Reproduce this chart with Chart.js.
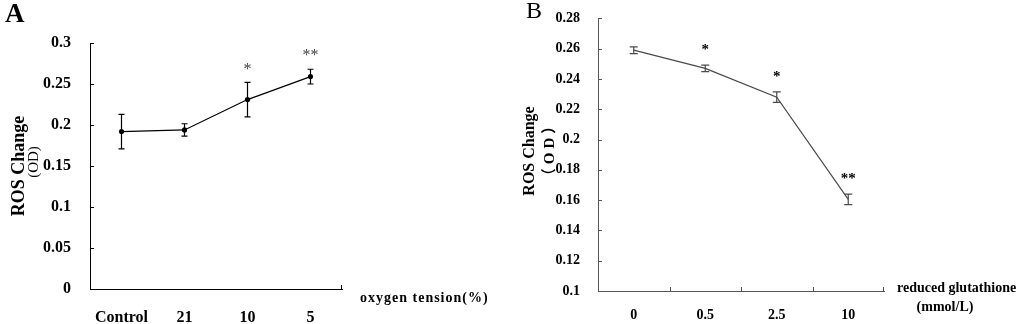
<!DOCTYPE html>
<html>
<head>
<meta charset="utf-8">
<script src="https://cdn.jsdelivr.net/npm/chart.js@4/dist/chart.umd.min.js"></script>
<style>
  html, body { margin: 0; padding: 0; background: #fff; }
  #wrap { position: relative; width: 1024px; height: 324px; }
  .panel { position: absolute; top: 0; width: 512px; height: 324px; }
</style>
</head>
<body>
<div id="wrap">
  <div class="panel" style="left:0"><canvas id="chartA"></canvas></div>
  <div class="panel" style="left:512px"><canvas id="chartB"></canvas></div>
</div>
<script>
// panel A: oxygen tension
var catsA = ['Control', '21', '10', '5'];
var rosA = [0.192, 0.194, 0.231, 0.259];
var errA = [0.021, 0.0075, 0.021, 0.009];
var starsA = ['', '', '*', '**'];
var ticksA = { min: 0, max: 0.3, step: 0.05 };

// panel B: reduced glutathione
var catsB = ['0', '0.5', '2.5', '10'];
var rosB = [0.259, 0.247, 0.228, 0.1605];
var errB = [0.0022, 0.0022, 0.0035, 0.0035];
var starsB = ['', '*', '*', '**'];
var ticksB = { min: 0.1, max: 0.28, step: 0.02 };

var SERIF = "'Liberation Serif', 'Times New Roman', 'Noto Sans CJK SC', serif";

function fmt(v) { return String(+v.toFixed(2)); }

function panelPlugin(p) {
    return {
        id: 'panel' + p.letter,
        afterDatasetsDraw: function(chart) {
            var ctx = chart.ctx, xs = chart.scales.x, ys = chart.scales.y;
            ctx.save();
            ctx.strokeStyle = p.color;
            ctx.lineWidth = 1.2;
            p.values.forEach(function(v, i) {
                var x = xs.getPixelForValue(i);
                var top = ys.getPixelForValue(v + p.errors[i]);
                var bot = ys.getPixelForValue(v - p.errors[i]);
                ctx.beginPath();
                ctx.moveTo(x, top); ctx.lineTo(x, bot);
                ctx.moveTo(x - p.cap, top); ctx.lineTo(x + p.cap, top);
                ctx.moveTo(x - p.cap, bot); ctx.lineTo(x + p.cap, bot);
                ctx.stroke();
                if (p.stars[i]) {
                    ctx.fillStyle = p.starColor;
                    ctx.font = p.starFont;
                    ctx.textAlign = 'center';
                    ctx.textBaseline = 'middle';
                    ctx.fillText(p.stars[i], x, top - p.starGap);
                }
            });
            ctx.restore();
        },
        afterDraw: function(chart) {
            var ctx = chart.ctx, xs = chart.scales.x, ys = chart.scales.y;
            var a = chart.chartArea;
            ctx.save();
            // inward tick marks
            ctx.strokeStyle = p.axisColor;
            ctx.lineWidth = 1;
            ctx.beginPath();
            ys.ticks.forEach(function(t) {
                var y = Math.round(ys.getPixelForValue(t.value)) + 0.5;
                ctx.moveTo(a.left, y); ctx.lineTo(a.left + 4, y);
            });
            if (p.xTicks) {
                for (var i = 1; i < p.values.length; i++) {
                    var mx = Math.round((xs.getPixelForValue(i - 1) + xs.getPixelForValue(i)) / 2) + 0.5;
                    ctx.moveTo(mx, a.bottom); ctx.lineTo(mx, a.bottom - 4);
                }
            }
            ctx.moveTo(a.right - 0.5, a.bottom); ctx.lineTo(a.right - 0.5, a.bottom - 4);
            ctx.stroke();

            ctx.fillStyle = '#000';
            // panel letter
            ctx.font = p.letterFont;
            ctx.textAlign = 'left';
            ctx.textBaseline = 'middle';
            ctx.fillText(p.letter, p.letterX, p.letterY);

            // y title, two lines rotated
            ctx.textAlign = 'center';
            ctx.save();
            ctx.translate(p.titleX1, p.titleY1);
            ctx.rotate(-Math.PI / 2);
            ctx.font = p.titleFont1;
            ctx.fillText('ROS Change', 0, 0);
            ctx.restore();
            ctx.save();
            ctx.translate(p.titleX2, p.titleY2);
            ctx.rotate(-Math.PI / 2);
            ctx.font = p.titleFont2;
            if ('letterSpacing' in ctx) ctx.letterSpacing = p.unitSpacing;
            ctx.fillText(p.unitY, 0, 0);
            ctx.restore();

            // x title at the right end of the axis
            ctx.font = p.xTitleFont;
            if ('letterSpacing' in ctx) ctx.letterSpacing = p.xSpacing;
            p.xTitle.forEach(function(line) {
                ctx.textAlign = line.align;
                ctx.fillText(line.text, a.right + line.dx, a.bottom + line.dy);
            });
            ctx.restore();
        }
    };
}

function makeChart(canvasId, labels, values, rng, p) {
    var ctx = document.getElementById(canvasId);
    return new Chart(ctx, {
        type: 'line',
        data: {
            labels: labels,
            datasets: [{
                data: values,
                borderColor: p.color,
                borderWidth: 1.2,
                backgroundColor: p.color,
                pointRadius: p.pointRadius,
                pointBorderWidth: 0,
                tension: 0,
                fill: false
            }]
        },
        options: {
            responsive: true,
            maintainAspectRatio: false,
            animation: false,
            devicePixelRatio: 1,
            layout: { padding: { left: 0, right: p.padRight, top: p.padTop, bottom: 0 } },
            plugins: { legend: { display: false }, tooltip: { enabled: false } },
            scales: {
                x: {
                    type: 'category',
                    offset: true,
                    grid: { display: false },
                    border: { display: true, color: p.axisColor, width: 1 },
                    ticks: {
                        color: '#000',
                        padding: p.xPad,
                        maxRotation: 0,
                        autoSkip: false,
                        font: { family: SERIF, size: p.xFontSize, weight: 'bold' }
                    },
                    afterFit: function(s) { s.height = p.xHeight; }
                },
                y: {
                    min: rng.min,
                    max: rng.max,
                    grid: { display: false },
                    border: { display: true, color: p.axisColor, width: 1 },
                    ticks: {
                        stepSize: rng.step,
                        color: '#000',
                        padding: p.yPad,
                        font: { family: SERIF, size: p.yFontSize, weight: 'bold' },
                        callback: function(v) { return fmt(v); }
                    },
                    afterFit: function(s) { s.width = p.yWidth; }
                }
            }
        },
        plugins: [panelPlugin(p)]
    });
}

var chartA = makeChart('chartA', catsA, rosA, ticksA, {
    letter: 'A', letterX: 5, letterY: 15, letterFont: 'bold 27px ' + SERIF,
    values: rosA, errors: errA, stars: starsA,
    color: '#000', axisColor: '#000', pointRadius: 2.6, cap: 3,
    starColor: '#444', starFont: '16px ' + SERIF, starGap: 13,
    padRight: 170, padTop: 43, yWidth: 90, xHeight: 35,
    xPad: 11, yPad: 11, xFontSize: 16, yFontSize: 16,
    xTicks: false,
    titleX1: 19, titleY1: 166, titleFont1: 'bold 18px ' + SERIF,
    titleX2: 34, titleY2: 162, titleFont2: '15px ' + SERIF, unitY: '(OD)', unitSpacing: '0px',
    xTitleFont: 'bold 14px ' + SERIF, xSpacing: '1px',
    xTitle: [{ text: 'oxygen tension(%)', dx: 18, dy: 9, align: 'left' }]
});

var chartB = makeChart('chartB', catsB, rosB, ticksB, {
    letter: 'B', letterX: 14, letterY: 12, letterFont: '24px ' + SERIF,
    values: rosB, errors: errB, stars: starsB,
    color: '#4a4a4a', axisColor: '#555', pointRadius: 0, cap: 4,
    starColor: '#000', starFont: 'bold 15px ' + SERIF, starGap: 15,
    padRight: 140, padTop: 14, yWidth: 86, xHeight: 33,
    xPad: 8, yPad: 10, xFontSize: 14, yFontSize: 14,
    xTicks: true,
    titleX1: 18, titleY1: 151, titleFont1: 'bold 16px ' + SERIF,
    titleX2: 38, titleY2: 149, titleFont2: 'bold 15px ' + SERIF, unitY: '（OD）', unitSpacing: '4px',
    xTitleFont: 'bold 14px ' + SERIF, xSpacing: '0px',
    xTitle: [
        { text: 'reduced glutathione', dx: 13, dy: -3, align: 'left' },
        { text: '(mmol/L)', dx: 61, dy: 16, align: 'center' }
    ]
});
</script>
</body>
</html>
